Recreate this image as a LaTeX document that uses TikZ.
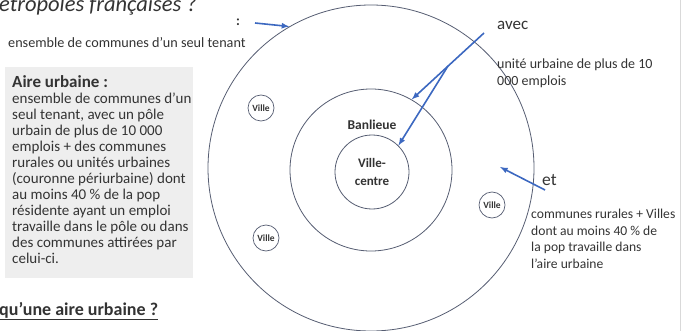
\documentclass[tikz,border=0pt]{standalone}
\usepackage{fontspec}
\setmainfont{Carlito}
\usetikzlibrary{positioning}

\definecolor{ringgray}{HTML}{565D72}
\definecolor{arrowblue}{HTML}{3C68C0}
\definecolor{textgray}{HTML}{333333}
\definecolor{boxgray}{HTML}{EEEEEE}

\begin{document}
\begin{tikzpicture}[x=1pt,y=-1pt]
        \tikzstyle{every node}=[text=textgray,inner sep=0pt]
        \tikzstyle{ring}=[draw=ringgray,line width=0.8pt,circle]
        \tikzstyle{ville}=[draw=ringgray,line width=0.7pt,circle,minimum size=26pt,font=\fontsize{9.5}{10}\selectfont\bfseries]
        \tikzstyle{pointer}=[draw=arrowblue,line width=1.6pt,>=latex,->]
        \useasboundingbox (0,0) rectangle (687,331);
        \clip (0,0) rectangle (687,331);

        % slide border
        \draw[black!15,line width=0.8pt] (680,0) -- (680,331);

        % rings
        \node[ring,minimum size=326pt] (aire) at (371,168) {};
        \node[ring,minimum size=162pt] (banlieue) at (371,170) {};
        \node[ring,minimum size=74pt,align=center,font=\fontsize{13}{18.5}\selectfont\bfseries] (centre) at (372,172) {Ville-\\centre};
        \node[above=5pt of centre,font=\fontsize{13.5}{15}\selectfont\bfseries] (banlieuelabel) {Banlieue};

        % other towns
        \node[ville] (ville1) at (261,108) {Ville};
        \node[ville] (ville2) at (266,238) {Ville};
        \node[ville] (ville3) at (492,205) {Ville};

        % left side
        \node[anchor=base west,font=\fontsize{22.5}{26}\selectfont\itshape] (titre) at (-1,12) {étropoles françaises ?};
        \node[anchor=west,font=\fontsize{14}{15}\selectfont\bfseries] (deuxpoints) at (236,22) {:};
        \node[anchor=west,font=\fontsize{14.2}{16}\selectfont] (tenant) at (8,43) {ensemble de communes d'un seul tenant};

        \node[fill=boxgray,anchor=north west,minimum width=188pt,minimum height=211pt] (cadre) at (5,67) {};
        \node[anchor=north west,align=left,font=\fontsize{15}{16}\selectfont] (definition) at (12,75)
            {{\fontsize{17}{18}\selectfont\bfseries Aire urbaine :}\\[0.5pt]
             ensemble de communes d'un\\
             seul tenant, avec un pôle\\
             urbain de plus de 10 000\\
             emplois + des communes\\
             rurales ou unités urbaines\\
             (couronne périurbaine) dont\\
             au moins 40 \% de la pop\\
             résidente ayant un emploi\\
             travaille dans le pôle ou dans\\
             des communes attirées par\\
             celui-ci.};

        \node[anchor=base west,font=\fontsize{18}{20}\selectfont\bfseries] (question) at (-1,315) {\underline{qu’une aire urbaine ?}};

        % right side
        \node[anchor=west,font=\fontsize{17}{19}\selectfont] (avec) at (497,25) {avec};
        \node[anchor=north west,align=left,font=\fontsize{14}{16.5}\selectfont] (unite) at (497,59)
            {unité urbaine de plus de 10\\000 emplois};
        \node[anchor=west,font=\fontsize{17.5}{19}\selectfont] (et) at (542,180) {et};
        \node[anchor=north west,align=left,font=\fontsize{13.6}{16.5}\selectfont] (rurales) at (531,209)
            {communes rurales + Villes\\dont au moins 40 \% de\\la pop travaille dans\\l'aire urbaine};

        % arrows
        \coordinate (deuxdepart) at (255,23);
        \draw[pointer] (deuxdepart) -- (aire.120);
        \coordinate (avecdepart) at (484,33);
        \coordinate (fourche) at (448,66);
        \draw[pointer] (avecdepart) -- (banlieue.60);
        \draw[pointer] (fourche) -- (centre.45);
        \coordinate (etdepart) at (545,190);
        \coordinate (etfin) at (500,167);
        \draw[pointer] (etdepart) -- (etfin);

    \end{tikzpicture}
\end{document}
